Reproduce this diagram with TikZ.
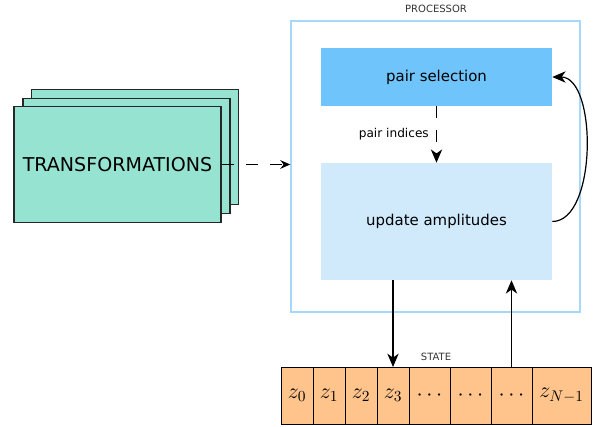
\RequirePackage{fix-cm}
\documentclass[tikz,border=0pt]{standalone}
\usepackage{fontspec}
\setmainfont{DejaVu Sans}
\usetikzlibrary{arrows.meta,positioning}
\definecolor{procblue}{RGB}{166,216,250}
\definecolor{selblue}{RGB}{112,196,252}
\definecolor{updblue}{RGB}{208,234,252}
\definecolor{transgreen}{RGB}{149,227,208}
\definecolor{stateorange}{RGB}{254,196,140}

\begin{document}
\begin{tikzpicture}[x=0.75pt, y=-0.75pt,
    block/.style={rectangle, inner sep=0pt, minimum width=173.25pt, font=\fontsize{11.2}{13}\selectfont},
    trans/.style={rectangle, draw=black!85, fill=transgreen, line width=0.8pt, minimum width=155.25pt, minimum height=86.5pt, inner sep=0pt},
    cell/.style={rectangle, draw=black, fill=stateorange, line width=0.6pt, minimum height=42.75pt, inner sep=0pt, outer sep=0pt, font=\fontsize{16.5}{18}\selectfont},
    tag/.style={font=\fontsize{7.5}{9}\selectfont, text=black!80},
    arrow/.style={-{Stealth[length=10pt, width=8.5pt, inset=3pt]}, line width=0.9pt},
    dasharrow/.style={arrow, dash pattern=on 9pt off 9pt}
]
    \useasboundingbox (0,0) rectangle (595,427);

    % processor
    \node[rectangle, draw=procblue, line width=1.1pt, minimum width=216.75pt, minimum height=218.25pt] (proc) at (435.5,166.5) {};
    \node[tag] (proclabel) at (436,9) {PROCESSOR};
    \node[block, fill=selblue, minimum height=43.5pt] (sel) at (436.5,77) {pair selection};
    \node[block, fill=updblue, minimum height=87.75pt] (upd) at (436.5,221.5) {update amplitudes};

    % transformations stack
    \node[trans] (transC) at (135.3,147) {};
    \node[trans] (transB) at (126.5,155.8) {};
    \node[trans, font=\fontsize{14.3}{16}\selectfont] (trans) at (117.5,164.5) {TRANSFORMATIONS};

    % state
    \node[tag] (statelabel) at (436,357) {STATE};
    \node[cell, minimum width=24pt] (z0) at (297,395.5) {$z_0$};
    \node[cell, minimum width=24pt, right=0pt of z0] (z1) {$z_1$};
    \node[cell, minimum width=24pt, right=0pt of z1] (z2) {$z_2$};
    \node[cell, minimum width=24pt, right=0pt of z2] (z3) {$z_3$};
    \node[cell, minimum width=30.75pt, right=0pt of z3] (d1) {$\cdots$};
    \node[cell, minimum width=30.75pt, right=0pt of d1] (d2) {$\cdots$};
    \node[cell, minimum width=30.75pt, right=0pt of d2] (d3) {$\cdots$};
    \node[cell, minimum width=44.25pt, right=0pt of d3] (zN) {$z_{N-1}$};

    \draw[dasharrow] (sel) -- node[left=2pt, font=\fontsize{9.1}{11}\selectfont] {pair indices} (upd);
    \draw[arrow] (upd.east) to[out=0, in=0, looseness=0.8] (sel.east);
    \draw[dasharrow, -{Stealth[length=7.5pt, width=6.5pt, inset=2.5pt]}] (trans.east) -- (trans.east -| proc.west);
    \draw[arrow] (upd.south -| z3) -- (z3.north);
    \draw[arrow] (d3.north) -- (d3.north |- upd.south);
\end{tikzpicture}
\end{document}
